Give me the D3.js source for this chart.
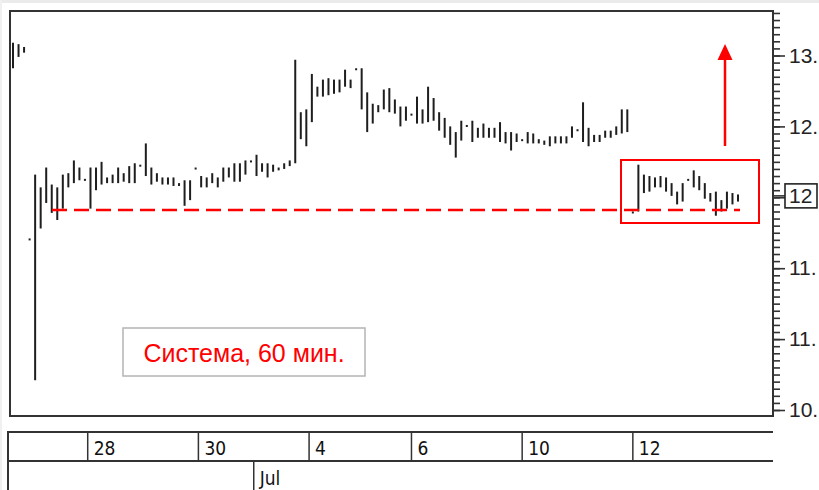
<!DOCTYPE html>
<html lang="ru">
<head>
    <meta charset="UTF-8">
    <title>Система, 60 мин.</title>
    <script src="https://cdn.jsdelivr.net/npm/d3@7/dist/d3.min.js"></script>
    <style>
        html, body { margin: 0; padding: 0; background: #fff; overflow: hidden; }
        svg { display: block; }
    </style>
</head>
<body>
    <div id="root"></div>
    <script>
        // hourly bars, high / low
        const highs = [
            13.09, 13.08, 13.06, 11.71, 12.16, 12.07, 12.21, 12.09, 12.07, 12.16,
            12.17, 12.26, 12.21, 12.13, 12.21, 12.21, 12.25, 12.14, 12.16, 12.21,
            12.17, 12.22, 12.24, 12.23, 12.38, 12.21, 12.17, 12.14, 12.14, 12.14,
            12.10, 12.12, 12.12, 12.21, 12.15, 12.14, 12.17, 12.14, 12.21, 12.21,
            12.24, 12.24, 12.26, 12.26, 12.30, 12.24, 12.24, 12.23, 12.21, 12.24,
            12.26, 12.97, 12.60, 12.62, 12.87, 12.78, 12.83, 12.84, 12.83, 12.83,
            12.90, 12.83, 12.91, 12.91, 12.74, 12.66, 12.65, 12.76, 12.77, 12.69,
            12.64, 12.64, 12.59, 12.71, 12.62, 12.78, 12.70, 12.60, 12.56, 12.50,
            12.46, 12.54, 12.51, 12.54, 12.49, 12.52, 12.49, 12.49, 12.53, 12.46,
            12.46, 12.45, 12.41, 12.46, 12.45, 12.41, 12.40, 12.43, 12.43, 12.43,
            12.43, 12.50, 12.48, 12.67, 12.49, 12.44, 12.44, 12.47, 12.47, 12.50,
            12.62, 12.62, 11.90, 12.23, 12.16, 12.15, 12.14, 12.15, 12.14, 12.10,
            12.04, 12.10, 12.13, 12.19, 12.15, 12.10, 12.03, 12.04, 11.98, 12.04,
            12.03, 12.02
        ];
        const lows = [
            12.91, 12.99, 13.02, 11.71, 10.71, 11.78, 11.96, 11.89, 11.84, 11.92,
            12.07, 12.10, 12.12, 12.13, 11.92, 12.05, 12.09, 12.10, 12.10, 12.10,
            12.11, 12.10, 12.10, 12.23, 12.15, 12.09, 12.11, 12.09, 12.09, 12.08,
            12.08, 11.94, 11.98, 12.21, 12.07, 12.07, 12.10, 12.07, 12.11, 12.14,
            12.11, 12.11, 12.16, 12.26, 12.15, 12.18, 12.14, 12.18, 12.19, 12.20,
            12.22, 12.24, 12.41, 12.36, 12.53, 12.71, 12.71, 12.72, 12.73, 12.74,
            12.78, 12.77, 12.91, 12.62, 12.46, 12.52, 12.60, 12.62, 12.60, 12.59,
            12.50, 12.54, 12.59, 12.52, 12.52, 12.53, 12.54, 12.47, 12.42, 12.37,
            12.28, 12.40, 12.51, 12.39, 12.42, 12.42, 12.42, 12.42, 12.39, 12.38,
            12.33, 12.39, 12.41, 12.38, 12.38, 12.38, 12.37, 12.36, 12.38, 12.38,
            12.38, 12.42, 12.48, 12.39, 12.36, 12.39, 12.39, 12.42, 12.42, 12.44,
            12.45, 12.46, 11.90, 11.90, 12.03, 12.04, 12.07, 12.07, 12.04, 12.01,
            11.95, 11.97, 12.13, 12.07, 12.05, 11.99, 11.97, 11.87, 11.90, 11.92,
            11.95, 11.97
        ];

        // price ticks and the labels as they show at the chart's right edge
        const priceTicks = [10.5, 11.0, 11.5, 12.0, 12.5, 13.0];
        const priceLabels = ['10.', '11.', '11.', '', '12.', '13.'];
        const lastPrice = 12.01;
        const lastLabel = '12';
        const supportLevel = 11.91;

        // day / month separators, as bar positions
        const dayLabels = ['28', '30', '4', '6', '10', '12'];
        const dayBreaks = [13.5, 33.5, 53.5, 72, 92, 112];
        const monthLabels = ['Jul'];
        const monthBreaks = [43.5];

        const legendText = 'Система, 60 мин.';

        const W = 819, H = 490;
        const plot = {left: 10, top: 11, right: 773, bottom: 416};

        const svg = d3.select('#root')
            .append('svg')
            .attr('width', W)
            .attr('height', H);

        // faint screenshot edge
        svg.append('rect').attr('x', 0).attr('y', 0).attr('width', W).attr('height', 3).attr('fill', '#ebebeb');
        svg.append('rect').attr('x', 0).attr('y', 0).attr('width', 2).attr('height', H).attr('fill', '#f0f0f0');

        const x = d3.scaleLinear().domain([0, highs.length - 1]).range([13, 738]);
        const y = d3.scaleLinear().domain([10.5, 13.0]).range([410, 55.5]);

        // frame
        svg.append('rect')
            .attr('x', plot.left)
            .attr('y', plot.top)
            .attr('width', plot.right - plot.left)
            .attr('height', plot.bottom - plot.top)
            .attr('fill', 'none')
            .attr('stroke', '#333')
            .attr('stroke-width', 2);

        // right price axis
        const minorTicks = d3.range(0, 57).map(k => +(10.5 + k * 0.05).toFixed(2));
        const minorAxis = d3.axisRight(y).tickValues(minorTicks).tickSize(7).tickFormat('');
        svg.append('g')
            .attr('transform', `translate(${plot.right},0)`)
            .call(minorAxis)
            .call(g => g.select('.domain').remove())
            .call(g => g.selectAll('line').attr('stroke', '#333').attr('stroke-width', 1.6));

        const majorAxis = d3.axisRight(y)
            .tickValues(priceTicks)
            .tickSize(12)
            .tickPadding(4)
            .tickFormat((d, i) => priceLabels[i]);
        svg.append('g')
            .attr('transform', `translate(${plot.right},0)`)
            .call(majorAxis)
            .call(g => g.select('.domain').remove())
            .call(g => g.selectAll('line').attr('stroke', '#333').attr('stroke-width', 1.6))
            .call(g => g.selectAll('text')
                .attr('font-family', 'Liberation Sans, Arial, sans-serif')
                .attr('font-size', 21)
                .attr('fill', '#222'));

        // current price box
        const ly = y(lastPrice);
        svg.append('line')
            .attr('x1', plot.right).attr('x2', 785)
            .attr('y1', ly).attr('y2', ly)
            .attr('stroke', '#333').attr('stroke-width', 1.6);
        svg.append('rect')
            .attr('x', 785).attr('y', ly - 12)
            .attr('width', 32).attr('height', 24)
            .attr('fill', '#fff')
            .attr('stroke', '#222').attr('stroke-width', 1.6);
        svg.append('text')
            .attr('x', 789).attr('y', ly)
            .attr('dy', '0.36em')
            .attr('font-family', 'Liberation Sans, Arial, sans-serif')
            .attr('font-size', 21)
            .attr('fill', '#222')
            .text(lastLabel);

        // bars
        svg.append('g').selectAll('rect')
            .data(highs)
            .enter()
            .append('rect')
            .attr('x', (d, i) => x(i) - 1)
            .attr('y', (d, i) => y(d))
            .attr('width', 2)
            .attr('height', (d, i) => Math.max(2, y(lows[i]) - y(d)))
            .attr('fill', '#1e1e1e');

        // support line
        svg.append('line')
            .attr('x1', 52).attr('x2', 740)
            .attr('y1', y(supportLevel)).attr('y2', y(supportLevel))
            .attr('stroke', '#f00')
            .attr('stroke-width', 2.5)
            .attr('stroke-dasharray', '15,7');

        // highlight box + arrow
        svg.append('rect')
            .attr('x', 621).attr('y', 160)
            .attr('width', 138).attr('height', 63)
            .attr('fill', 'none')
            .attr('stroke', '#f00')
            .attr('stroke-width', 2);
        svg.append('line')
            .attr('x1', 725).attr('x2', 725)
            .attr('y1', 146).attr('y2', 58)
            .attr('stroke', '#f00')
            .attr('stroke-width', 2.5);
        svg.append('path')
            .attr('d', 'M725,44 L732.5,60 L717.5,60 Z')
            .attr('fill', '#f00');

        // legend
        svg.append('rect')
            .attr('x', 123).attr('y', 328)
            .attr('width', 242).attr('height', 48)
            .attr('fill', '#fff')
            .attr('stroke', '#b4b4b4')
            .attr('stroke-width', 1.5);
        svg.append('text')
            .attr('x', 244).attr('y', 362)
            .attr('text-anchor', 'middle')
            .attr('font-family', 'Liberation Sans, Arial, sans-serif')
            .attr('font-size', 25)
            .attr('fill', '#f00')
            .text(legendText);

        // date axis
        const dateFont = 'Liberation Sans Narrow, DejaVu Sans Condensed, Arial Narrow, sans-serif';
        const dg = svg.append('g').attr('stroke', '#333');
        dg.append('line').attr('x1', 8).attr('x2', plot.right).attr('y1', 432).attr('y2', 432).attr('stroke-width', 2);
        dg.append('line').attr('x1', 8).attr('x2', plot.right).attr('y1', 461).attr('y2', 461).attr('stroke-width', 2);
        dg.append('line').attr('x1', 8).attr('x2', 8).attr('y1', 431).attr('y2', H).attr('stroke-width', 2);

        dg.selectAll('.dayline')
            .data(dayBreaks)
            .enter()
            .append('line')
            .attr('x1', d => x(d)).attr('x2', d => x(d))
            .attr('y1', 432).attr('y2', 461)
            .attr('stroke-width', 1.5);
        svg.selectAll('.daylbl')
            .data(dayBreaks)
            .enter()
            .append('text')
            .attr('x', d => x(d) + 6)
            .attr('y', 455)
            .attr('font-family', dateFont)
            .attr('font-size', 19)
            .attr('fill', '#111')
            .text((d, i) => dayLabels[i]);

        dg.selectAll('.monline')
            .data(monthBreaks)
            .enter()
            .append('line')
            .attr('x1', d => x(d)).attr('x2', d => x(d))
            .attr('y1', 461).attr('y2', H)
            .attr('stroke-width', 1.5);
        svg.selectAll('.monlbl')
            .data(monthBreaks)
            .enter()
            .append('text')
            .attr('x', d => x(d) + 6)
            .attr('y', 485)
            .attr('font-family', dateFont)
            .attr('font-size', 19)
            .attr('fill', '#111')
            .text((d, i) => monthLabels[i]);
    </script>
</body>
</html>
